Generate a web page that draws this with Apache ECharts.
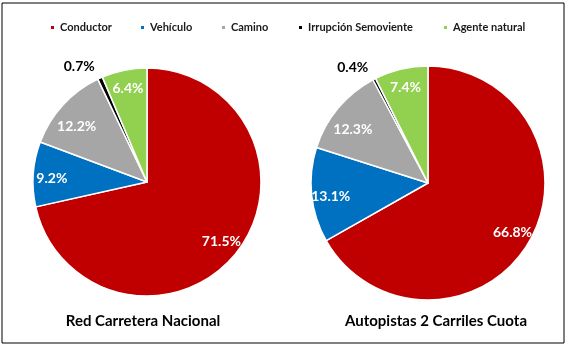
<!DOCTYPE html>
<html><head><meta charset="utf-8">
<script src="https://cdn.jsdelivr.net/npm/echarts@6/dist/echarts.min.js"></script>
<style>html,body{margin:0;padding:0;background:#fff}#c{width:569px;height:347px}</style>
</head><body><div id="c"></div>
<script>
const categories = ['Conductor','Vehículo','Camino','Irrupción Semoviente','Agente natural'];
const colors = ['#C00000','#0070C0','#A6A6A6','#000000','#92D050'];
const redNacional = [71.5, 9.2, 12.2, 0.7, 6.4];
const autopistas = [66.8, 13.1, 12.3, 0.4, 7.4];
const titles = ['Red Carretera Nacional','Autopistas 2 Carriles Cuota'];

const FONT = 'Lato';
const chart = echarts.init(document.getElementById('c'));
const legendLeft = [49, 139, 220, 297, 442];

function mainSeries(vals, center, r) {
  return {
    type: 'pie', center: center, radius: r, startAngle: 90, clockwise: true,
    avoidLabelOverlap: false, animation: false,
    itemStyle: {borderColor: '#fff', borderWidth: 1.5},
    label: {show: false},
    labelLine: {show: false},
    data: vals.map((v, i) => {
      const d = {name: categories[i], value: v, itemStyle: {color: colors[i]}};
      if (v < 1) {
        d.label = {show: true, position: 'outside', formatter: '{c}%', color: '#000',
          fontFamily: FONT, fontWeight: 'bold', fontSize: 14, distanceToLabelLine: 0};
        d.labelLine = {show: false, length: 13, length2: 0};
      }
      return d;
    })
  };
}
const labelShift = [[0, 0], [0, 3], [0, 9], [0, 0], [0, 0]];
function labelSeries(vals, center, r) {
  return {
    type: 'pie', center: center, radius: [r * 0.62, r], startAngle: 90, clockwise: true,
    silent: true, avoidLabelOverlap: false, animation: false, legendHoverLink: false,
    itemStyle: {color: 'rgba(0,0,0,0)', borderWidth: 0},
    label: {show: true, position: 'inside', formatter: p => p.value.toFixed(1) + '%',
      color: '#fff', fontFamily: FONT, fontWeight: 'bold', fontSize: 14},
    labelLine: {show: false},
    labelLayout: p => ({dx: labelShift[p.dataIndex][0], dy: labelShift[p.dataIndex][1]}),
    data: vals.map((v, i) => {
      const d = {name: categories[i] + ' ', value: v};
      if (v < 1) d.label = {show: false};
      return d;
    })
  };
}

const option = {
  backgroundColor: '#fff',
  legend: categories.map((c, i) => ({
    data: [{name: c, icon: 'rect', itemStyle: {color: colors[i]}}],
    left: legendLeft[i], top: 22, itemWidth: 5, itemHeight: 5, itemGap: 0, padding: 0,
    selectedMode: false,
    textStyle: {fontFamily: FONT, fontWeight: 'bold', fontSize: 11, color: '#1a1a1a'}
  })),
  title: [
    {text: titles[0], left: 138, top: 309, textAlign: 'center',
      textStyle: {fontFamily: FONT, fontWeight: 'bold', fontSize: 15, color: '#000'}},
    {text: titles[1], left: 431, top: 309, textAlign: 'center',
      textStyle: {fontFamily: FONT, fontWeight: 'bold', fontSize: 15, color: '#000'}}
  ],
  graphic: [{type: 'rect', shape: {x: 2, y: 3, width: 562, height: 340},
    style: {fill: 'none', stroke: '#000', lineWidth: 1}, silent: true}],
  series: [
    mainSeries(redNacional, [147, 182], 114),
    labelSeries(redNacional, [147, 182], 114),
    mainSeries(autopistas, [428, 183], 117),
    labelSeries(autopistas, [428, 183], 117)
  ]
};
chart.setOption(option);
</script></body></html>
